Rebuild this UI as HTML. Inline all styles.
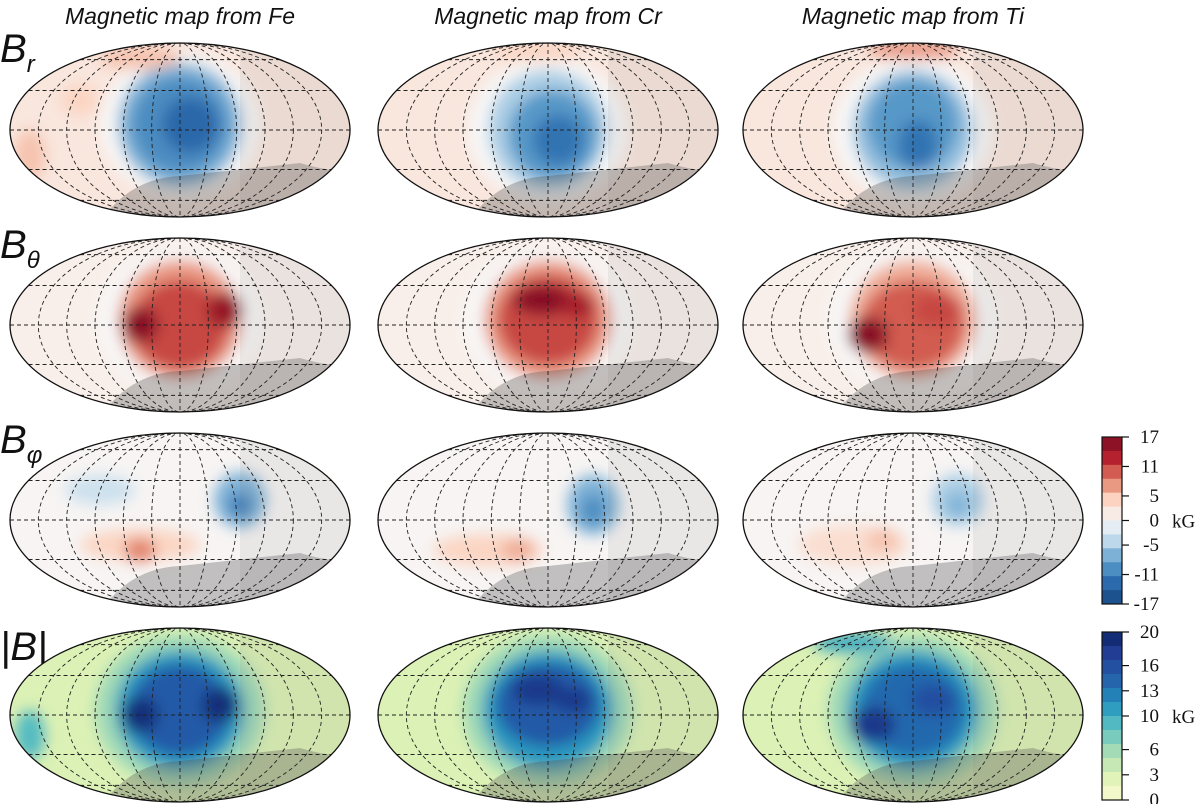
<!DOCTYPE html>
<html><head><meta charset="utf-8">
<style>
body{margin:0;background:#fff;}
svg{display:block;}
.ttl{font-family:"Liberation Sans",sans-serif;font-style:italic;font-size:23px;fill:#111;}
.rl{font-family:"Liberation Sans",sans-serif;font-style:italic;fill:#111;}
.tk{font-family:"Liberation Serif",serif;font-size:19px;fill:#111;}
</style></head><body>
<svg id="fig" width="1200" height="804" viewBox="0 0 1200 804" xmlns="http://www.w3.org/2000/svg">
<defs>
<filter id="bl" x="-50%" y="-50%" width="200%" height="200%"><feGaussianBlur stdDeviation="7"/></filter>
</defs>
<text class="ttl" x="180" y="24" text-anchor="middle">Magnetic map from Fe</text>
<text class="ttl" x="548" y="24" text-anchor="middle">Magnetic map from Cr</text>
<text class="ttl" x="913" y="24" text-anchor="middle">Magnetic map from Ti</text>
<text class="rl" x="0" y="62" font-size="40">B<tspan font-size="24" dy="10">r</tspan></text>
<text class="rl" x="0" y="258" font-size="40">B<tspan font-size="24" dy="10">θ</tspan></text>
<text class="rl" x="0" y="453" font-size="40">B<tspan font-size="24" dy="10">φ</tspan></text>
<text class="rl" x="0" y="660" font-size="40">|B|</text>
<g id="maps"></g>
<g id="cbars"></g>
</svg>
<script>
const ticksDiv = [17, 11, 5, 0, -5, -11, -17];
const ticksAbs = [20, 16, 13, 10, 6, 3, 0];
const colsDiv = ["#7a0a22","#b5212e","#e07a62","#fbd3c0","#f7f7f7","#bcd8ea","#5d9ecc","#2a6aad","#15467f"];
const colsAbs = ["#0d2466","#24409a","#2463ab","#2393c0","#5ec2c1","#a6dcb6","#dff2b5","#fafbd2"];
const rowNames = ["br","btheta","bphi","babs"];
const colNames = ["fe","cr","ti"];
const baseVals = [[2,2,2],[1,1,1],[0.3,0.3,0.3],[3,3,3]];
// blobs: [dx, dy, rx, ry, value]
const blobsBr = [
 [[0,-5,80,72,0],[0,-5,62,62,-7],[0,-5,48,48,-10],[10,-5,28,28,-13],[-150,25,15,25,5],[-40,-72,40,12,5],[-100,-30,20,15,4]],
 [[0,0,80,72,0],[0,0,60,60,-5],[5,5,45,45,-9],[10,10,25,25,-12],[-10,-78,45,10,4]],
 [[0,0,80,72,0],[0,0,60,60,-6],[0,-5,45,45,-9],[5,15,20,25,-12],[0,-80,45,10,7]]];
const blobsBt = [
 [[0,-5,82,72,0],[0,-5,62,60,7],[0,0,48,45,11],[-40,0,18,18,16],[45,-15,18,18,15]],
 [[0,-5,84,72,0],[0,-5,64,60,7],[0,-5,50,45,11],[-5,-25,30,15,16],[30,-20,18,12,14]],
 [[0,-5,84,72,0],[0,-5,64,60,6],[0,0,52,45,10],[-45,10,20,18,16],[25,-15,25,16,11]]];
const blobsBp = [
 [[60,-20,26,28,-7],[60,-15,12,12,-11],[-40,25,60,16,4],[-40,30,16,12,8],[-80,-30,35,15,-3]],
 [[45,-15,26,30,-7],[45,-10,12,15,-10],[-60,30,55,16,4],[-30,30,16,12,6]],
 [[45,-20,26,26,-5],[45,-15,12,12,-7],[-60,25,55,20,3],[-30,20,16,12,5]]];
const blobsAb = [
 [[0,-5,85,75,6],[0,-5,65,60,11],[0,-5,50,46,15],[-40,0,18,18,19],[40,-10,18,18,19],[-150,20,15,25,9]],
 [[0,-5,85,75,6],[0,-5,66,60,11],[0,-10,52,42,15],[-10,-25,26,15,18],[25,-15,18,12,18]],
 [[0,-5,85,75,6],[0,-5,66,60,11],[0,-5,52,46,14],[-40,10,22,18,18],[20,-15,22,15,16],[-60,-72,40,10,10]]];
const allBlobs = [blobsBr, blobsBt, blobsBp, blobsAb];

const NS = "http://www.w3.org/2000/svg";
function mk(t, a, p){const e=document.createElementNS(NS,t);for(const k in a)e.setAttribute(k,a[k]);if(p)p.appendChild(e);return e;}
function lerp(a,b,t){const pa=[1,3,5].map(i=>parseInt(a.substr(i,2),16)),pb=[1,3,5].map(i=>parseInt(b.substr(i,2),16));return "rgb("+pa.map((v,i)=>Math.round(v+(pb[i]-v)*t)).join(",")+")";}
function colorDiv(v){const t=Math.max(0,Math.min(1,(17-v)/34))*(colsDiv.length-1);const i=Math.min(colsDiv.length-2,Math.floor(t));return lerp(colsDiv[i],colsDiv[i+1],t-i);}
function colorAbs(v){const t=Math.max(0,Math.min(1,(20-v)/20))*(colsAbs.length-1);const i=Math.min(colsAbs.length-2,Math.floor(t));return lerp(colsAbs[i],colsAbs[i+1],t-i);}
const cxs=[180,548,913], cys=[130,325,520,715], RX=170, RY=87;
const maps=document.getElementById('maps');
rowNames.forEach((rn,r)=>{colNames.forEach((cn,c)=>{
 const cx=cxs[c], cy=cys[r];
 const col = r===3?colorAbs:colorDiv;
 const g=mk('g',{},maps);
 
 
 const cid='clip'+r+c;
 const cp=mk('clipPath',{id:cid},g); mk('ellipse',{cx:cx,cy:cy,rx:RX,ry:RY},cp);
 const inner=mk('g',{'clip-path':'url(#'+cid+')'},g);
 mk('rect',{x:cx-RX,y:cy-RY,width:2*RX,height:2*RY,fill:col(baseVals[r][c])},inner);
 const bg=mk('g',{filter:'url(#bl)'},inner);
 allBlobs[r][c].forEach(b=>{
  const e=mk('ellipse',{cx:cx+b[0],cy:cy+b[1],rx:b[2],ry:b[3],fill:col(b[4])},bg);
  
  
 });
 const sh=mk('path',{d:`M${cx-80} ${cy+RY+5} Q${cx-50} ${cy+48} ${cx} ${cy+46} L${cx+120} ${cy+33} Q${cx+150} ${cy+42} ${cx+RX} ${cy+40} L${cx+RX} ${cy+RY+5} Z`,fill:'rgba(80,80,80,0.32)'},inner);
 
 
 mk('rect',{x:cx+60,y:cy-RY,width:RX,height:2*RY,fill:'rgba(120,120,120,0.1)'},inner);
 const gr=mk('g',{fill:'none',stroke:'#222','stroke-width':0.9,'stroke-dasharray':'4,3'},inner);
 [-60,-30,0,30,60].forEach(l=>{const y=cy-RY*Math.sin(l*Math.PI/180*0.9);const hw=RX*Math.sqrt(Math.max(0,1-((y-cy)/RY)**2));mk('line',{x1:cx-hw,y1:y,x2:cx+hw,y2:y},gr);});
 [30,60,90,120,150].forEach(l=>{mk('ellipse',{cx:cx,cy:cy,rx:RX*l/180,ry:RY},gr);});
 mk('line',{x1:cx,y1:cy-RY,x2:cx,y2:cy+RY},gr);
 mk('ellipse',{cx:cx,cy:cy,rx:RX,ry:RY,fill:'none',stroke:'#111','stroke-width':1.3},g);
});});
const cb=document.getElementById('cbars');
function bar(y0,y1,ticks,col,vmax,vmin,name){
 const g=mk('g',{},cb);
 
 
 const n=12, h=(y1-y0)/n;
 for(let i=0;i<n;i++){const v=vmax-(vmax-vmin)*(i+0.5)/n;mk('rect',{x:1102,y:y0+i*h,width:20,height:h+0.5,fill:col(v)},g);}
 mk('rect',{x:1102,y:y0,width:20,height:y1-y0,fill:'none',stroke:'#111','stroke-width':1.2},g);
 ticks.forEach(t=>{const y=y0+(vmax-t)/(vmax-vmin)*(y1-y0);
  mk('line',{x1:1122,y1:y,x2:1129,y2:y,stroke:'#111','stroke-width':1.2},g);
  const tx=mk('text',{x:1159,y:y+6,'text-anchor':'end','class':'tk'},g);tx.textContent=t;
  
  
 });
 const k=mk('text',{x:1172,y:(y0+y1)/2+7,'class':'tk'},g);k.textContent='kG';
 
 
}
bar(437,604,ticksDiv,colorDiv,17,-17,'colorbar-b-components');
bar(632,800,ticksAbs,colorAbs,20,0,'colorbar-b-magnitude');
</script>
</body></html>
